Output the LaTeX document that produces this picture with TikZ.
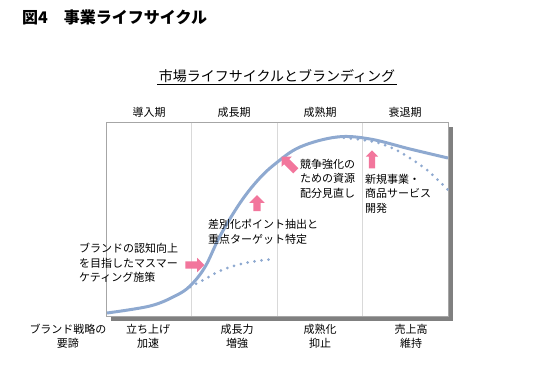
\documentclass[tikz,border=0pt]{standalone}
\usepackage{fontspec}
\setmainfont{Noto Sans CJK JP}
\usetikzlibrary{shapes.arrows}
\definecolor{curveblue}{HTML}{8EA9D0}
\definecolor{arrowpink}{HTML}{F2769C}
\definecolor{shadowgray}{HTML}{808080}
\begin{document}
\begin{tikzpicture}[x=1pt,y=-1pt,
  txt/.style={inner sep=0pt,align=left,anchor=north west,font=\fontsize{11}{14.5}\selectfont},
  ctxt/.style={inner sep=0pt,align=center,anchor=north,font=\fontsize{11}{14}\selectfont},
  pinkarrow/.style={single arrow,fill=arrowpink,draw=none,inner xsep=0pt,inner ysep=3.5pt,minimum height=19pt,single arrow head extend=3.5pt},
  dotline/.style={curveblue,line width=3pt,line cap=round,dash pattern=on 0pt off 7pt}]
\useasboundingbox (0,0) rectangle (555,384);

\node [anchor=west,inner sep=0pt,font=\fontsize{16}{16}\selectfont\bfseries] (title) at (22,17) {図4　事業ライフサイクル};
\node [inner sep=1.5pt,font=\fontsize{14}{14}\selectfont] (subtitle) at (277,76) {市場ライフサイクルとブランディング};
\draw [line width=0.8pt] (subtitle.south west) -- (subtitle.south east);

\begin{scope}
\fill [shadowgray] (111,127) rectangle (453,321);
\filldraw [fill=white,draw=gray!70,line width=0.8pt] (106,122) rectangle (448,316);
\end{scope}

\begin{scope}[gray!30,line width=0.6pt]
\draw (191.5,122.5) -- (191.5,315.5);
\draw (277,122.5) -- (277,315.5);
\draw (362.5,122.5) -- (362.5,315.5);
\end{scope}

\begin{scope}[font=\fontsize{11}{11}\selectfont,inner sep=0pt]
\node (ph1) at (149,112) {導入期};
\node (ph2) at (234,112) {成長期};
\node (ph3) at (320,112) {成熟期};
\node (ph4) at (405,112) {衰退期};
\end{scope}

\draw [curveblue,line width=3pt] plot [smooth,tension=0.6] coordinates {(107,313) (150,306) (175,296) (190,286) (205,267) (220,236) (240,203) (258,180) (275,164) (300,147) (337,137) (370,139) (410,149) (448,158)};
\draw [dotline] plot [smooth] coordinates {(190,287) (205,279) (222,270) (245,263) (273,259)};
\draw [dotline] plot [smooth] coordinates {(337,137) (375,142) (400,152) (427,170) (448,190)};

\begin{scope}
\node [pinkarrow] (arr1) at (193,265) {};
\node [pinkarrow,rotate=90,minimum height=16pt,single arrow head extend=4pt] (arr2) at (257,205) {};
\node [pinkarrow,rotate=135,minimum height=20pt] (arr3) at (290,165) {};
\node [pinkarrow,rotate=90,minimum height=18pt,inner ysep=3pt,single arrow head extend=3pt] (arr4) at (372,161) {};
\end{scope}

\node [txt] (mass) at (79,243) {ブランドの認知向上\\を目指したマスマー\\ケティング施策};
\node [txt] (diff) at (208,219) {差別化ポイント抽出と\\重点ターゲット特定};
\node [txt] (comp) at (300,159) {競争強化の\\ための資源\\配分見直し};
\node [txt] (newbiz) at (365,174) {新規事業・\\商品サービス\\開発};

\node [ctxt] (key) at (68,324) {ブランド戦略の\\要諦};
\node [ctxt] (key1) at (148,324) {立ち上げ\\加速};
\node [ctxt] (key2) at (237,324) {成長力\\増強};
\node [ctxt] (key3) at (320,324) {成熟化\\抑止};
\node [ctxt] (key4) at (411,324) {売上高\\維持};

\end{tikzpicture}
\end{document}
